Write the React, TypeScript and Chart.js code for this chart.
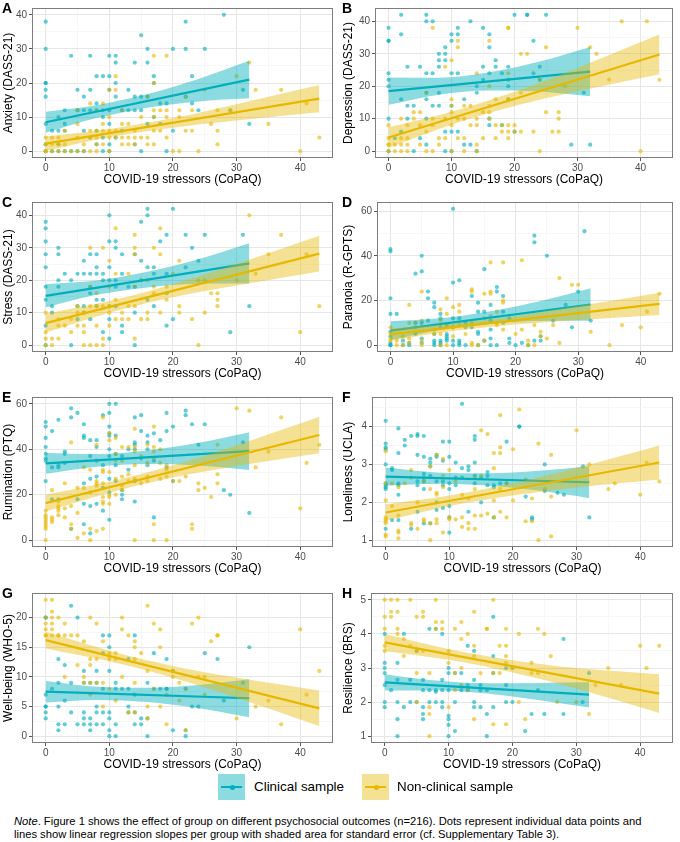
import React, { useEffect, useRef } from "react";
import { Chart, registerables } from "chart.js";

Chart.register(...registerables);

const FONT = "'Liberation Sans', Arial, Helvetica, sans-serif";
const TEAL = "#00AFBB";
const GOLD = "#E7B800";
const TEAL_PT = "rgba(0,175,187,0.62)";
const GOLD_PT = "rgba(231,184,0,0.62)";
const TEAL_BAND = "rgba(0,175,187,0.45)";
const GOLD_BAND = "rgba(231,184,0,0.42)";

// ---------- shared axis values ----------
const xTitle = "COVID-19 stressors (CoPaQ)";
const xMajorTicks = [0, 10, 20, 30, 40];
const xMinorTicks = [5, 15, 25, 35];
const xLimits = [-2.15, 45.15];
const fitXClinical = [0, 32];
const fitXNonClinical = [0, 43];
const bandXClinical = [0, 8, 16, 24, 32];
const bandXNonClinical = [0, 10, 20, 30, 43];

type Pts = [number, number[]][];

// ---------- A: Anxiety ----------
const anxietyClinical: Pts = [
  [0, [38, 30, 20, 20, 18, 16, 8, 2, 0]], [1, [6, 0]], [2, [10, 6, 2, 0]], [3, [12, 8, 6, 0]],
  [4, [28, 0]], [5, [18, 12, 0]], [6, [16, 12, 6, 0]], [7, [28, 18, 12, 4]], [8, [22, 14, 12, 6, 2]],
  [9, [22, 12, 10, 4, 0]], [10, [28, 22, 18, 12, 8, 2, 0]], [11, [28, 26, 20, 16, 4]], [12, [12, 6]],
  [13, [18, 12]], [14, [26, 16, 12, 2]], [15, [34, 16, 12, 0]], [16, [30, 26, 16, 8]], [17, [22, 20, 10]],
  [18, [14, 8]], [19, [14, 0]], [20, [30, 6]], [22, [38, 30, 16]], [23, [22, 14]], [24, [12]], [25, [30]],
  [28, [40]], [29, [12]], [31, [18]], [32, [8]],
];
const anxietyNonClinical: Pts = [
  [0, [4, 2, 0, 0]], [1, [4, 2, 0]], [2, [4, 2, 0]], [3, [6, 2, 0]], [4, [0]], [5, [12, 8, 4, 0]],
  [6, [2, 0]], [7, [14, 6, 4, 0]], [8, [12, 6, 4, 2, 0]], [9, [14, 8, 6, 2]], [10, [18, 10, 6, 4, 0]],
  [11, [22, 18, 6, 4]], [12, [12, 8, 4, 2]], [13, [8, 4, 2]], [14, [6, 4, 2]], [15, [10, 4]],
  [16, [16, 4, 2]], [17, [28, 20, 12, 10, 6, 2]], [18, [12, 6]], [19, [28, 12, 10, 4]], [20, [0]],
  [21, [12, 10, 0]], [22, [16, 6]], [23, [12, 6]], [24, [0]], [25, [18]], [26, [8]], [27, [12, 6, 2]],
  [29, [12]], [30, [22]], [32, [26]], [33, [18]], [35, [8]], [37, [18]], [40, [0]], [41, [14]], [43, [4]],
];
const anxietyFitClinical = [8.5, 21];
const anxietyFitNonClinical = [2.2, 15.4];
const anxietyBandClinicalUpper = [11.6, 13.5, 16.75, 21.2, 26.5];
const anxietyBandClinicalLower = [5.4, 9.7, 12.75, 14.6, 15.5];
const anxietyBandNonClinicalUpper = [4.3, 6.5, 9.7, 13.8, 19.4];
const anxietyBandNonClinicalLower = [0.1, 4.1, 6.9, 9.0, 11.4];

// ---------- B: Depression ----------
const depressionClinical: Pts = [
  [0, [38, 34, 34, 24, 22, 20, 10, 0]], [1, [4]], [2, [42, 36, 16, 6]], [3, [26, 14, 10]], [4, [14, 0]],
  [5, [26, 4]], [6, [42, 40, 24, 18, 16, 10, 2]], [7, [40, 24, 14]], [8, [30, 28, 26, 18, 14]],
  [9, [32, 30, 28, 6, 0]], [10, [36, 34, 24, 14, 6, 0]], [11, [38, 36, 24, 6]], [12, [16, 2]],
  [13, [40, 2]], [14, [20, 18, 0]], [15, [38, 26, 22]], [16, [36, 32, 24, 10, 8]], [17, [28, 26]],
  [18, [24, 8]], [19, [26, 22, 20, 16]], [20, [42, 6]], [22, [42, 42]], [23, [34, 24]], [24, [26, 22]],
  [25, [42]], [29, [2]], [31, [18]], [32, [2]],
];
const depressionNonClinical: Pts = [
  [0, [8, 4, 2, 2, 0]], [1, [2, 0]], [2, [10, 4, 2, 0]], [3, [8, 4, 2, 0]], [4, [12, 10]], [5, [12, 8, 2]],
  [6, [18, 6, 0]], [7, [38, 10, 8, 0]], [8, [4, 2]], [9, [26, 10, 4]], [10, [28, 16, 14, 12, 8, 0]],
  [11, [34, 32, 10, 4]], [12, [14, 10, 4, 0]], [13, [14, 8]], [14, [24, 10, 8, 2, 0]], [15, [12, 4]],
  [16, [34, 20, 14, 12, 10]], [17, [16, 8, 4]], [18, [8, 6]], [19, [38, 38, 24, 16, 8, 6, 4]], [20, [8, 6]],
  [21, [30, 18, 6]], [22, [30]], [23, [6]], [24, [22, 0]], [25, [32, 12]], [26, [6]], [27, [12, 10, 6]],
  [28, [20]], [30, [38]], [32, [32]], [33, [30]], [35, [22]], [37, [40]], [40, [0]], [41, [40]], [43, [22]],
];
const depressionFitClinical = [18.5, 24.5];
const depressionFitNonClinical = [4.2, 29.8];
const depressionBandClinicalUpper = [22.7, 22.6, 24.3, 27.6, 32.1];
const depressionBandClinicalLower = [14.3, 17.4, 18.7, 18.4, 16.9];
const depressionBandNonClinicalUpper = [7.4, 12.15, 18.3, 25.65, 35.9];
const depressionBandNonClinicalLower = [1.0, 8.15, 13.9, 18.45, 23.7];

// ---------- C: Stress ----------
const stressClinical: Pts = [
  [0, [38, 36, 32, 28, 24, 18, 14, 6, 0]], [1, [12, 10]], [2, [30, 28, 20, 18]], [3, [22]], [4, [20, 0]],
  [5, [22, 12, 8]], [6, [26, 22, 12, 10]], [7, [28, 22, 18, 16, 8]], [8, [28, 24, 22, 14, 12]],
  [9, [22, 20, 14, 4]], [10, [40, 32, 24, 20, 12, 8, 2]], [11, [32, 30, 20, 18, 12]], [12, [28, 22, 6, 4]],
  [13, [18]], [14, [28, 18, 10, 0]], [15, [38, 26, 20]], [16, [42, 40, 24, 14]], [17, [24, 22, 12]],
  [18, [32]], [19, [34, 22, 16, 6]], [20, [42, 8]], [22, [34, 24]], [23, [30]], [24, [26]], [25, [34]],
  [29, [4]], [31, [34]], [32, [12]],
];
const stressNonClinical: Pts = [
  [0, [10, 4, 2, 0]], [1, [2, 0]], [2, [8, 6, 2]], [3, [6]], [4, [8, 4]], [5, [12, 10, 6]], [6, [10, 6, 4, 0]],
  [7, [30, 18, 12, 0]], [8, [16, 12, 6, 0]], [9, [30, 12, 2, 0]], [10, [26, 18, 12, 10, 6]],
  [11, [36, 22, 14, 8]], [12, [10, 8]], [13, [22, 12, 8]], [14, [34, 30, 28, 18, 12, 2]], [15, [20, 8]],
  [16, [20, 10, 8]], [17, [30, 18, 16]], [18, [36, 28, 10]], [19, [18, 14]], [20, [22]], [21, [26, 12, 10]],
  [23, [8]], [24, [20, 0]], [25, [20, 10]], [26, [16]], [27, [16, 14, 12]], [30, [20]], [32, [40]],
  [33, [22]], [35, [28]], [37, [34]], [40, [4]], [41, [28]], [43, [12]],
];
const stressFitClinical = [15.2, 25.2];
const stressFitNonClinical = [6.8, 28.2];
const stressBandClinicalUpper = [18.8, 19.9, 22.6, 26.5, 31.4];
const stressBandClinicalLower = [11.6, 15.5, 17.8, 18.9, 19.0];
const stressBandNonClinicalUpper = [9.7, 13.6, 18.8, 25.0, 33.7];
const stressBandNonClinicalLower = [3.9, 10.0, 14.8, 18.4, 22.7];

// ---------- D: Paranoia ----------
const paranoiaClinical: Pts = [
  [0, [43, 42, 21, 14, 6, 4, 1, 0, 0]], [1, [14]], [2, [2, 0]], [3, [1, 0]], [4, [32, 10, 5]],
  [5, [40, 33, 10, 3, 1]], [6, [24, 21, 11]], [7, [19, 17, 5, 2, 1, 0]], [8, [14, 12, 8, 2, 1, 0]],
  [9, [9, 5, 4, 3, 2]], [10, [61, 28, 12, 8, 2, 0]], [11, [29, 12, 2, 1, 0]], [12, [10, 8, 0]],
  [13, [22, 8]], [14, [19, 15, 6, 5, 0]], [15, [34, 15, 2]], [16, [18, 11, 7, 3, 0]], [17, [26, 24, 0]],
  [18, [22, 15, 10]], [19, [12, 3, 1]], [20, [0]], [21, [1]], [22, [0]], [23, [49, 46, 2]], [24, [4, 2]],
  [25, [40]], [26, [11]], [28, [18]], [29, [8]], [30, [24]], [31, [51]], [32, [11]],
];
const paranoiaNonClinical: Pts = [
  [0, [8, 5, 3, 2]], [1, [0, 2]], [2, [4, 0]], [3, [18, 10, 3, 1]], [4, [10, 8]], [5, [24, 11, 2, 0]],
  [7, [7, 5]], [8, [16, 11, 5, 0]], [9, [21, 14, 0]], [10, [17, 8, 4]], [11, [18, 15, 9]], [12, [5]],
  [13, [25, 24, 10, 1, 0]], [14, [0]], [15, [23, 12, 2]], [16, [37, 24, 23, 13]], [17, [15, 10, 9]],
  [18, [37, 20, 19, 7]], [20, [5]], [21, [38, 7]], [22, [2, 0]], [23, [9, 0]], [24, [6, 4]], [25, [3]],
  [26, [9]], [27, [30, 1]], [29, [27]], [30, [27]], [32, [6]], [35, [0]], [37, [9]], [40, [8]], [41, [15]],
  [43, [23]],
];
const paranoiaFitClinical = [6.5, 18.2];
const paranoiaFitNonClinical = [4.8, 18.5];
const paranoiaBandClinicalUpper = [10.7, 12.0, 15.15, 19.8, 25.5];
const paranoiaBandClinicalLower = [2.3, 6.8, 9.55, 10.8, 10.9];
const paranoiaBandNonClinicalUpper = [7.6, 9.7, 13.1, 17.5, 23.5];
const paranoiaBandNonClinicalLower = [2.0, 6.3, 9.3, 11.3, 13.5];

// ---------- E: Rumination ----------
const ruminationClinical: Pts = [
  [0, [52, 50, 45, 41, 38, 36, 35, 26]], [1, [48, 32, 18]], [2, [53, 33, 32, 18]], [3, [39, 38, 34]],
  [4, [58, 54, 5]], [5, [56, 18]], [6, [51, 46, 45, 25, 16, 7]], [7, [44, 37, 27, 15, 3]],
  [8, [44, 41, 35, 28, 16]], [9, [55, 33, 23, 13]], [10, [60, 56, 50, 47, 46, 40, 37, 27, 21, 9]],
  [11, [60, 46, 38, 33, 26]], [12, [37, 22, 20, 18]], [13, [40, 31]], [14, [54, 43, 42, 40, 26, 17]],
  [15, [55, 48, 36]], [16, [46, 43, 40, 33]], [17, [47, 35, 10]], [18, [44]], [19, [56, 48, 32]],
  [20, [50, 26]], [22, [57, 55]], [23, [51]], [24, [42]], [25, [51]], [28, [22]], [29, [20]], [31, [43]],
  [32, [12]],
];
const ruminationNonClinical: Pts = [
  [0, [13, 11, 10, 9, 8, 7, 6, 5, 0]], [1, [22, 10, 9, 8]], [2, [17, 15, 14, 13, 11]], [3, [25, 14, 10]],
  [4, [43, 15, 7, 5]], [5, [23, 12, 1]], [6, [32, 23, 3]], [7, [31, 21, 5, 0]], [8, [42, 26, 25, 24, 4]],
  [9, [54, 31, 30, 25, 19, 17, 16, 5]], [10, [47, 44, 30, 20, 19, 16]], [11, [45, 38, 35, 27, 20]],
  [12, [41, 35, 28, 24, 22]], [13, [41, 29, 26]], [14, [49, 41, 39, 33, 27, 0]], [15, [37, 25]],
  [16, [42, 34, 28, 26]], [17, [50, 41, 39, 36, 7, 0]], [18, [40, 34, 27]], [19, [33, 31, 28, 0]],
  [20, [26]], [21, [26]], [22, [28]], [23, [7, 5]], [24, [25, 22]], [25, [23]], [26, [19]],
  [27, [42, 29, 25]], [30, [58]], [32, [57]], [33, [32]], [35, [39]], [37, [54]], [40, [14]], [41, [34]],
  [43, [42]],
];
const ruminationFitClinical = [33.8, 39.2];
const ruminationFitNonClinical = [16.3, 46.3];
const ruminationBandClinicalUpper = [38.4, 37.95, 39.5, 42.85, 47.5];
const ruminationBandClinicalLower = [29.2, 32.35, 33.5, 32.85, 30.9];
const ruminationBandNonClinicalUpper = [20.0, 25.7, 32.95, 41.8, 54.3];
const ruminationBandNonClinicalLower = [12.6, 20.9, 27.55, 32.6, 38.3];

// ---------- F: Loneliness ----------
const lonelinessClinical: Pts = [
  [0, [4.15, 3.55, 3.45, 3.4, 3.0, 2.5, 2.45, 2.4, 2.35, 1.3]], [1, [2.9, 2.85, 1.53]],
  [2, [3.95, 3.3, 2.5, 2.45, 2.2, 1.53]], [3, [3.65, 3.5]], [4, [3.75, 1.3]],
  [5, [3.8, 3.75, 3.25, 2.55, 2.45, 1.75]], [6, [3.75, 3.2, 2.75, 2.65, 2.55, 2.35, 1.44]],
  [7, [3.15, 3.05, 2.95, 2.7, 1.44]], [8, [3.25, 3.2, 2.55, 2.0, 1.8]], [9, [3.6, 3.1, 2.55, 2.45, 1.85]],
  [10, [3.6, 3.2, 2.5, 2.35, 1.9, 1.6, 1.2]], [11, [3.05, 2.65, 2.45]], [12, [4.6, 2.9, 2.65]],
  [13, [2.95, 2.85, 1.75]], [14, [3.75, 3.65, 3.05, 2.7, 2.5]], [15, [2.65, 2.0]], [16, [2.8, 2.7, 2.45]],
  [17, [2.45, 2.4, 1.6]], [18, [2.5]], [19, [3.6, 2.5]], [21, [4.0, 4.0]], [22, [2.15]], [23, [1.6, 1.55]],
  [25, [3.0, 2.3]], [27, [2.25]], [28, [2.2]], [31, [2.95]], [32, [1.6]],
];
const lonelinessNonClinical: Pts = [
  [0, [3.35, 2.5, 2.05, 1.6, 1.55, 1.5, 1.45, 1.15, 1.1]], [1, [2.5, 1.9]], [2, [2.4, 1.65, 1.25, 1.2, 1.05]],
  [3, [2.5]], [4, [2.85, 2.65, 1.45, 1.4]], [5, [2.0, 1.3]], [6, [2.55, 1.55, 1.5]], [7, [2.95, 2.35, 1.45, 1.0]],
  [8, [3.25, 2.25, 2.2, 1.55, 1.45]], [9, [3.15, 2.7, 2.4, 1.2]], [10, [2.85, 1.6, 1.55]], [11, [2.55, 1.55]],
  [12, [2.2, 1.6, 1.35]], [13, [2.1, 1.45, 1.3]], [14, [2.65, 2.35, 1.65, 1.3]], [15, [3.9, 2.7, 1.65]],
  [16, [3.8, 1.7]], [17, [3.3, 2.9, 2.05, 1.6]], [18, [4.3, 3.45, 3.3, 2.35, 1.75]], [19, [2.5, 1.6]],
  [20, [3.4, 2.05]], [21, [4.45]], [22, [2.6, 1.5]], [23, [2.1, 1.5]], [24, [3.55, 1.0]], [25, [2.35]],
  [26, [3.25, 2.15, 1.1]], [30, [3.9]], [32, [3.0]], [35, [2.35]], [36, [2.5]], [40, [2.2]], [41, [3.05]],
  [43, [2.55]],
];
const lonelinessFitClinical = [2.68, 2.53];
const lonelinessFitNonClinical = [1.73, 3.05];
const lonelinessBandClinicalUpper = [2.92, 2.79, 2.765, 2.83, 2.95];
const lonelinessBandClinicalLower = [2.44, 2.49, 2.445, 2.31, 2.11];
const lonelinessBandNonClinicalUpper = [1.95, 2.18, 2.5, 2.91, 3.5];
const lonelinessBandNonClinicalLower = [1.51, 1.9, 2.18, 2.39, 2.6];

// ---------- G: Well-being ----------
const wellbeingClinical: Pts = [
  [0, [20, 20, 7, 5, 5, 4, 3]], [1, [8]], [2, [13, 9, 5, 2, 1]], [3, [12, 6, 2]], [4, [22, 9, 4]],
  [5, [20, 2]], [6, [11, 9, 4, 3, 2]], [7, [9, 3, 2, 1]], [8, [11, 9, 5, 4, 2]], [9, [17, 14, 8, 4, 2]],
  [10, [17, 15, 11, 4, 3, 1, 0]], [11, [9, 8, 2, 0]], [12, [8]], [13, [13, 8, 5, 4]], [14, [17, 7, 4, 2]],
  [15, [3, 2]], [16, [9, 3, 0]], [17, [14, 8]], [18, [8]], [19, [13, 8, 8]], [20, [11, 1]], [22, [8, 1, 0]],
  [23, [5]], [24, [5]], [25, [14]], [27, [13]], [28, [6]], [31, [9]], [32, [15]],
];
const wellbeingNonClinical: Pts = [
  [0, [23, 20, 19, 18, 17, 17]], [1, [23, 21, 20, 19, 18, 17]], [2, [20, 17, 17]], [3, [19, 17, 10]],
  [4, [17]], [5, [17, 12]], [6, [16, 10, 9]], [7, [20, 13, 12, 9, 7]], [8, [19, 13, 9]], [9, [16, 9, 5]],
  [10, [14, 13, 8]], [11, [14, 13, 6]], [12, [20, 18, 10]], [13, [17, 4]], [14, [16, 15, 13, 9, 4]],
  [15, [14]], [16, [22, 11, 5, 3]], [17, [19, 8]], [18, [18, 15, 5]], [19, [7, 2]], [20, [11, 10]],
  [21, [9, 6]], [22, [8, 1]], [23, [19]], [24, [20, 10]], [25, [10, 7]], [26, [16]], [27, [17, 17]],
  [30, [3]], [33, [5]], [35, [6]], [37, [2]], [40, [18]], [41, [7]], [43, [11]],
];
const wellbeingFitClinical = [7.5, 6.4];
const wellbeingFitNonClinical = [16.2, 4.7];
const wellbeingBandClinicalUpper = [9.3, 8.32, 8.15, 8.62, 9.6];
const wellbeingBandClinicalLower = [5.7, 6.12, 5.75, 4.72, 3.2];
const wellbeingBandNonClinicalUpper = [17.6, 14.43, 11.85, 9.88, 7.7];
const wellbeingBandNonClinicalLower = [14.8, 12.63, 9.85, 6.48, 1.7];

// ---------- H: Resilience ----------
const resilienceClinical: Pts = [
  [0, [4.0, 3.15, 3.0, 2.85, 2.5, 2.0, 1.85]], [1, [2.35]], [2, [3.15, 2.65, 2.0, 1.5, 1.0]],
  [3, [4.0, 1.85]], [4, [2.65, 2.0]], [5, [3.5, 2.0]], [6, [2.65, 2.35, 1.85, 1.65, 1.5]],
  [7, [4.15, 2.35, 2.0]], [8, [4.15, 2.35, 2.3, 2.0]], [9, [4.0, 2.65, 2.35, 2.0, 1.85]],
  [10, [3.0, 2.85, 2.35, 1.6, 1.5, 1.33, 1.0]], [11, [2.85, 2.0, 1.15]], [12, [2.85, 2.35]],
  [13, [3.65, 2.5, 2.35]], [14, [3.5, 2.65, 2.0, 1.85]], [15, [2.5, 2.35, 1.85]], [16, [2.35, 1.65, 1.0]],
  [17, [4.5, 3.35, 2.85, 1.85]], [19, [3.0, 2.5, 2.0]], [20, [3.0, 2.0]], [22, [1.15]], [23, [1.65]],
  [24, [2.35]], [25, [1.65]], [28, [3.85, 1.65]], [31, [2.0]], [32, [2.85]],
];
const resilienceNonClinical: Pts = [
  [0, [5.0, 4.5, 4.15, 3.65, 3.5]], [1, [5.0, 4.65, 4.5]], [2, [5.0, 4.65, 4.15, 4.0]], [3, [3.85, 3.35]],
  [4, [5.0, 3.65]], [5, [4.5, 3.5, 2.85, 2.0]], [6, [4.65, 4.5, 3.5]], [7, [2.85, 1.85, 1.65, 1.0]],
  [8, [5.0, 4.35, 4.15]], [9, [4.35, 4.15]], [10, [3.5, 3.15, 1.85]], [11, [4.15, 2.85, 2.35]],
  [12, [4.35, 3.85, 3.0, 2.5]], [13, [4.0, 2.35]], [14, [4.65, 3.65, 3.35, 1.5]], [15, [2.85]],
  [16, [4.15, 4.15]], [17, [5.0, 2.85, 1.35]], [18, [3.65, 2.85]], [19, [4.15, 3.65, 3.35, 3.15, 1.35]],
  [20, [3.0]], [21, [4.0, 2.0]], [22, [1.5]], [23, [3.15, 2.85]], [24, [4.15, 2.85]], [25, [4.0]],
  [26, [3.35]], [27, [2.0]], [30, [2.0]], [32, [1.65]], [33, [2.5]], [35, [3.0]], [37, [2.5]], [40, [3.65]],
  [41, [3.0]], [43, [3.65]],
];
const resilienceFitClinical = [2.58, 2.22];
const resilienceFitNonClinical = [3.75, 2.25];
const resilienceBandClinicalUpper = [2.82, 2.63, 2.55, 2.56, 2.58];
const resilienceBandClinicalLower = [2.34, 2.35, 2.25, 2.06, 1.84];
const resilienceBandNonClinicalUpper = [4.0, 3.56, 3.23, 3.0, 2.82];
const resilienceBandNonClinicalLower = [3.5, 3.24, 2.87, 2.4, 1.68];

// ---------- panel definitions ----------
const panels = [
  { letter: "A", yTitle: "Anxiety (DASS-21)", yLim: [-2, 42], yMajor: [0, 10, 20, 30, 40], yMinor: [5, 15, 25, 35],
    clin: anxietyClinical, non: anxietyNonClinical, fitC: anxietyFitClinical, fitN: anxietyFitNonClinical,
    cu: anxietyBandClinicalUpper, cl: anxietyBandClinicalLower, nu: anxietyBandNonClinicalUpper, nl: anxietyBandNonClinicalLower,
    col: 0, row: 0, yw: 32 },
  { letter: "B", yTitle: "Depression (DASS-21)", yLim: [-2.1, 44.1], yMajor: [0, 10, 20, 30, 40], yMinor: [5, 15, 25, 35],
    clin: depressionClinical, non: depressionNonClinical, fitC: depressionFitClinical, fitN: depressionFitNonClinical,
    cu: depressionBandClinicalUpper, cl: depressionBandClinicalLower, nu: depressionBandNonClinicalUpper, nl: depressionBandNonClinicalLower,
    col: 1, row: 0, yw: 35 },
  { letter: "C", yTitle: "Stress (DASS-21)", yLim: [-2.1, 44.1], yMajor: [0, 10, 20, 30, 40], yMinor: [5, 15, 25, 35],
    clin: stressClinical, non: stressNonClinical, fitC: stressFitClinical, fitN: stressFitNonClinical,
    cu: stressBandClinicalUpper, cl: stressBandClinicalLower, nu: stressBandNonClinicalUpper, nl: stressBandNonClinicalLower,
    col: 0, row: 1, yw: 32 },
  { letter: "D", yTitle: "Paranoia (R-GPTS)", yLim: [-3.05, 64.05], yMajor: [0, 20, 40, 60], yMinor: [10, 30, 50],
    clin: paranoiaClinical, non: paranoiaNonClinical, fitC: paranoiaFitClinical, fitN: paranoiaFitNonClinical,
    cu: paranoiaBandClinicalUpper, cl: paranoiaBandClinicalLower, nu: paranoiaBandNonClinicalUpper, nl: paranoiaBandNonClinicalLower,
    col: 1, row: 1, yw: 37 },
  { letter: "E", yTitle: "Rumination (PTQ)", yLim: [-3, 63], yMajor: [0, 20, 40, 60], yMinor: [10, 30, 50],
    clin: ruminationClinical, non: ruminationNonClinical, fitC: ruminationFitClinical, fitN: ruminationFitNonClinical,
    cu: ruminationBandClinicalUpper, cl: ruminationBandClinicalLower, nu: ruminationBandNonClinicalUpper, nl: ruminationBandNonClinicalLower,
    col: 0, row: 2, yw: 32 },
  { letter: "F", yTitle: "Loneliness (UCLA)", yLim: [0.82, 4.78], yMajor: [1, 2, 3, 4], yMinor: [1.5, 2.5, 3.5, 4.5],
    clin: lonelinessClinical, non: lonelinessNonClinical, fitC: lonelinessFitClinical, fitN: lonelinessFitNonClinical,
    cu: lonelinessBandClinicalUpper, cl: lonelinessBandClinicalLower, nu: lonelinessBandNonClinicalUpper, nl: lonelinessBandNonClinicalLower,
    col: 1, row: 2, yw: 32 },
  { letter: "G", yTitle: "Well-being (WHO-5)", yLim: [-1.15, 24.15], yMajor: [0, 5, 10, 15, 20], yMinor: [2.5, 7.5, 12.5, 17.5],
    clin: wellbeingClinical, non: wellbeingNonClinical, fitC: wellbeingFitClinical, fitN: wellbeingFitNonClinical,
    cu: wellbeingBandClinicalUpper, cl: wellbeingBandClinicalLower, nu: wellbeingBandNonClinicalUpper, nl: wellbeingBandNonClinicalLower,
    col: 0, row: 3, yw: 32 },
  { letter: "H", yTitle: "Resilience (BRS)", yLim: [0.8, 5.2], yMajor: [1, 2, 3, 4, 5], yMinor: [1.5, 2.5, 3.5, 4.5],
    clin: resilienceClinical, non: resilienceNonClinical, fitC: resilienceFitClinical, fitN: resilienceFitNonClinical,
    cu: resilienceBandClinicalUpper, cl: resilienceBandClinicalLower, nu: resilienceBandNonClinicalUpper, nl: resilienceBandNonClinicalLower,
    col: 1, row: 3, yw: 31 },
];

const rowPlotTops = [3, 197, 392, 588];
const CANVAS_W = 340;
const CANVAS_H = 188;

const expand = (p: Pts) => p.flatMap(([x, ys]) => ys.map((y) => ({ x, y })));
const pair = (xs: number[], ys: number[]) => xs.map((x, i) => ({ x, y: ys[i] }));
const isIn = (arr: number[], v: number) => arr.some((m) => Math.abs(m - v) < 1e-6);

const framePlugin = {
  id: "frame",
  afterDraw(chart: any) {
    const { ctx, chartArea } = chart;
    ctx.save();
    ctx.strokeStyle = "#7d7d7d";
    ctx.lineWidth = 1;
    ctx.strokeRect(
      Math.round(chartArea.left) + 0.5,
      Math.round(chartArea.top) + 0.5,
      Math.round(chartArea.right - chartArea.left) - 1,
      Math.round(chartArea.bottom - chartArea.top) - 1
    );
    ctx.restore();
  },
};

function gridOpts(major: number[]) {
  return {
    drawTicks: true,
    tickLength: 3,
    color: (c: any) => (c.tick && isIn(major, c.tick.value) ? "#e6e6e6" : "#f3f3f3"),
    lineWidth: (c: any) => (c.tick && isIn(major, c.tick.value) ? 1 : 0.7),
    tickColor: (c: any) => (c.tick && isIn(major, c.tick.value) ? "#555555" : "rgba(0,0,0,0)"),
    tickWidth: 1,
  };
}

function Panel({ p }: { p: any }) {
  const ref = useRef<HTMLCanvasElement | null>(null);
  useEffect(() => {
    if (!ref.current) return;
    const line = (data: any[], color: string, order: number) => ({
      type: "line", data, borderColor: color, borderWidth: 2.2, pointRadius: 0, fill: false, order,
    });
    const band = (data: any[], color: string, order: number, fill: any) => ({
      type: "line", data, borderColor: "rgba(0,0,0,0)", borderWidth: 0, pointRadius: 0,
      backgroundColor: color, fill, order, cubicInterpolationMode: "monotone",
    });
    const chart = new Chart(ref.current, {
      type: "scatter",
      data: {
        datasets: [
          { type: "scatter", data: expand(p.non), backgroundColor: GOLD_PT, borderWidth: 0, pointRadius: 2.1, order: 6 },
          { type: "scatter", data: expand(p.clin), backgroundColor: TEAL_PT, borderWidth: 0, pointRadius: 2.1, order: 6 },
          band(pair(bandXClinical, p.cu), TEAL_BAND, 5, 3),
          band(pair(bandXClinical, p.cl), TEAL_BAND, 5, false),
          band(pair(bandXNonClinical, p.nu), GOLD_BAND, 3, 5),
          band(pair(bandXNonClinical, p.nl), GOLD_BAND, 3, false),
          line(pair(fitXClinical, p.fitC), TEAL, 4),
          line(pair(fitXNonClinical, p.fitN), GOLD, 2),
        ] as any,
      },
      options: {
        animation: false,
        responsive: false,
        events: [],
        layout: { padding: { top: 3, right: 7, left: 0, bottom: 0 } },
        plugins: { legend: { display: false }, tooltip: { enabled: false } },
        scales: {
          x: {
            type: "linear",
            min: xLimits[0],
            max: xLimits[1],
            afterBuildTicks: (ax: any) => {
              ax.ticks = [...xMajorTicks, ...xMinorTicks].sort((a, b) => a - b).map((v) => ({ value: v }));
            },
            afterFit: (ax: any) => { ax.height = 30; },
            ticks: {
              autoSkip: false, maxRotation: 0, padding: 1, color: "#4d4d4d",
              font: { family: FONT, size: 10 },
              callback: (v: any) => (isIn(xMajorTicks, Number(v)) ? String(v) : ""),
            },
            grid: gridOpts(xMajorTicks),
            border: { display: false },
            title: { display: true, text: xTitle, color: "#000", font: { family: FONT, size: 12 }, padding: { top: 0, bottom: 1 } },
          },
          y: {
            type: "linear",
            min: p.yLim[0],
            max: p.yLim[1],
            afterBuildTicks: (ax: any) => {
              ax.ticks = [...p.yMajor, ...p.yMinor].sort((a: number, b: number) => a - b).map((v: number) => ({ value: v }));
            },
            afterFit: (ax: any) => { ax.width = p.yw; },
            ticks: {
              autoSkip: false, padding: 2, color: "#4d4d4d",
              font: { family: FONT, size: 10 },
              callback: (v: any) => (isIn(p.yMajor, Number(v)) ? String(v) : ""),
            },
            grid: gridOpts(p.yMajor),
            border: { display: false },
            title: { display: true, text: p.yTitle, color: "#000", font: { family: FONT, size: 12 }, padding: { top: 1, bottom: 0 } },
          },
        },
      } as any,
      plugins: [framePlugin],
    });
    return () => chart.destroy();
  }, [p]);

  const left = p.col * 340;
  const top = rowPlotTops[p.row] - 3;
  return (
    <>
      <canvas
        ref={ref}
        width={CANVAS_W}
        height={CANVAS_H}
        style={{ position: "absolute", left, top, width: CANVAS_W, height: CANVAS_H, display: "block" }}
      />
      <div
        style={{
          position: "absolute", left: left + 2, top: rowPlotTops[p.row] - 2, fontFamily: FONT,
          fontWeight: "bold", fontSize: 14, lineHeight: "14px", color: "#000",
        }}
      >
        {p.letter}
      </div>
    </>
  );
}

function LegendKey({ x, band, color }: { x: number; band: string; color: string }) {
  return (
    <div style={{ position: "absolute", left: x, top: 774, width: 27, height: 26, background: band }}>
      <div style={{ position: "absolute", left: 3, width: 21, top: 11.8, height: 2.4, background: color }} />
      <div style={{ position: "absolute", left: 11.5, top: 10.5, width: 5, height: 5, borderRadius: 3, background: color }} />
    </div>
  );
}

export default function App() {
  return (
    <div style={{ position: "absolute", left: 0, top: 0, width: 680, height: 842, background: "#fff", overflow: "hidden" }}>
      {panels.map((p) => (
        <Panel key={p.letter} p={p} />
      ))}
      <LegendKey x={218} band={TEAL_BAND} color={TEAL} />
      <div style={{ position: "absolute", left: 254, top: 779, fontFamily: FONT, fontSize: 13.4, lineHeight: "16px", color: "#000" }}>
        Clinical sample
      </div>
      <LegendKey x={362} band={GOLD_BAND} color={GOLD} />
      <div style={{ position: "absolute", left: 397, top: 779, fontFamily: FONT, fontSize: 13.4, lineHeight: "16px", color: "#000" }}>
        Non-clinical sample
      </div>
      <div style={{ position: "absolute", left: 14, top: 815, fontFamily: FONT, fontSize: 11.2, lineHeight: "13.4px", color: "#000", whiteSpace: "nowrap" }}>
        <i>Note</i>. Figure 1 shows the effect of group on different psychosocial outcomes (n=216). Dots represent individual data points and
        <br />
        lines show linear regression slopes per group with shaded area for standard error (cf. Supplementary Table 3).
      </div>
    </div>
  );
}
